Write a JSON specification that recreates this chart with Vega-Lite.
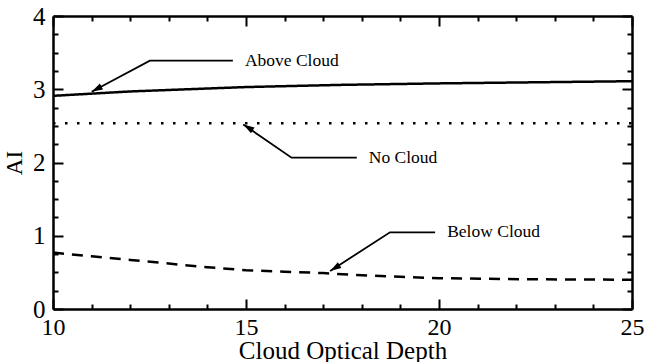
{
  "$schema": "https://vega.github.io/schema/vega-lite/v6.json",
  "width": 579,
  "height": 293,
  "autosize": "none",
  "padding": {"left": 53, "top": 16, "right": 13, "bottom": 53},
  "background": "white",
  "config": {
    "view": {"stroke": null},
    "font": "Liberation Serif",
    "axis": {
      "domainColor": "black",
      "domainWidth": 2.5,
      "tickColor": "black",
      "tickWidth": 2,
      "grid": false,
      "labelColor": "black",
      "titleColor": "black",
      "labelFont": "Liberation Serif",
      "titleFont": "Liberation Serif",
      "titleFontWeight": "normal"
    }
  },
  "datasets": {
    "curves": [
      {"series": "Above Cloud", "depth": 10, "ai": 2.91},
      {"series": "Above Cloud", "depth": 11, "ai": 2.94},
      {"series": "Above Cloud", "depth": 12, "ai": 2.97},
      {"series": "Above Cloud", "depth": 13, "ai": 2.99},
      {"series": "Above Cloud", "depth": 14, "ai": 3.01},
      {"series": "Above Cloud", "depth": 15, "ai": 3.03},
      {"series": "Above Cloud", "depth": 17.5, "ai": 3.06},
      {"series": "Above Cloud", "depth": 20, "ai": 3.08},
      {"series": "Above Cloud", "depth": 22.5, "ai": 3.095},
      {"series": "Above Cloud", "depth": 25, "ai": 3.11},
      {"series": "No Cloud", "depth": 10, "ai": 2.535},
      {"series": "No Cloud", "depth": 25, "ai": 2.535},
      {"series": "Below Cloud", "depth": 10, "ai": 0.77},
      {"series": "Below Cloud", "depth": 11, "ai": 0.72},
      {"series": "Below Cloud", "depth": 12, "ai": 0.67},
      {"series": "Below Cloud", "depth": 13, "ai": 0.62},
      {"series": "Below Cloud", "depth": 14, "ai": 0.57},
      {"series": "Below Cloud", "depth": 15, "ai": 0.53},
      {"series": "Below Cloud", "depth": 16, "ai": 0.51},
      {"series": "Below Cloud", "depth": 17, "ai": 0.49},
      {"series": "Below Cloud", "depth": 18, "ai": 0.46},
      {"series": "Below Cloud", "depth": 19, "ai": 0.44},
      {"series": "Below Cloud", "depth": 20, "ai": 0.42},
      {"series": "Below Cloud", "depth": 22.5, "ai": 0.405},
      {"series": "Below Cloud", "depth": 25, "ai": 0.40}
    ],
    "callouts": [
      {"label": "Above Cloud", "seq": 0, "depth": 11.0, "ai": 2.965},
      {"label": "Above Cloud", "seq": 1, "depth": 12.51, "ai": 3.39},
      {"label": "Above Cloud", "seq": 2, "depth": 14.66, "ai": 3.39},
      {"label": "No Cloud", "seq": 0, "depth": 14.93, "ai": 2.52},
      {"label": "No Cloud", "seq": 1, "depth": 16.18, "ai": 2.066},
      {"label": "No Cloud", "seq": 2, "depth": 17.87, "ai": 2.066},
      {"label": "Below Cloud", "seq": 0, "depth": 17.18, "ai": 0.519},
      {"label": "Below Cloud", "seq": 1, "depth": 18.73, "ai": 1.047},
      {"label": "Below Cloud", "seq": 2, "depth": 19.9, "ai": 1.047}
    ]
  },
  "resolve": {"axis": {"x": "independent", "y": "independent"}},
  "layer": [
    {
      "data": {"name": "curves"},
      "mark": {"type": "line", "color": "black", "strokeWidth": 2.5, "clip": true},
      "encoding": {
        "x": {
          "field": "depth", "type": "quantitative",
          "scale": {"domain": [10, 25], "nice": false, "zero": false},
          "axis": {
            "orient": "bottom",
            "values": [10, 11, 12, 13, 14, 15, 16, 17, 18, 19, 20, 21, 22, 23, 24, 25],
            "tickSize": {"condition": {"test": "datum.value % 5 === 0", "value": -10}, "value": -5},
            "labelExpr": "datum.value % 5 === 0 ? format(datum.value, 'd') : ''",
            "labelFontSize": 24,
            "labelPadding": 16,
            "labelFlush": false,
            "labelOverlap": false,
            "title": "Cloud Optical Depth",
            "titleFontSize": 25,
            "titlePadding": -6
          }
        },
        "y": {
          "field": "ai", "type": "quantitative",
          "scale": {"domain": [0, 4], "nice": false, "zero": false},
          "axis": {
            "orient": "left",
            "values": [0, 0.25, 0.5, 0.75, 1, 1.25, 1.5, 1.75, 2, 2.25, 2.5, 2.75, 3, 3.25, 3.5, 3.75, 4],
            "tickSize": {"condition": {"test": "datum.value % 1 === 0", "value": -10}, "value": -5},
            "labelExpr": "datum.value % 1 === 0 ? format(datum.value, 'd') : ''",
            "labelFontSize": 25,
            "labelPadding": 18,
            "labelFlush": false,
            "labelOverlap": false,
            "title": "AI",
            "titleFontSize": 23,
            "titlePadding": 6
          }
        },
        "detail": {"field": "series"},
        "strokeDash": {
          "field": "series", "type": "nominal",
          "scale": {"domain": ["Above Cloud", "No Cloud", "Below Cloud"], "range": [[1, 0], [2.5, 9.5], [11, 8]]},
          "legend": null
        }
      }
    },
    {
      "data": {"name": "callouts"},
      "mark": {"type": "line", "color": "black", "strokeWidth": 1.8},
      "encoding": {
        "x": {
          "field": "depth", "type": "quantitative",
          "axis": {
            "orient": "top",
            "values": [10, 11, 12, 13, 14, 15, 16, 17, 18, 19, 20, 21, 22, 23, 24, 25],
            "tickSize": {"condition": {"test": "datum.value % 5 === 0", "value": -10}, "value": -5},
            "labels": false,
            "title": null
          }
        },
        "y": {
          "field": "ai", "type": "quantitative",
          "axis": {
            "orient": "right",
            "values": [0, 0.25, 0.5, 0.75, 1, 1.25, 1.5, 1.75, 2, 2.25, 2.5, 2.75, 3, 3.25, 3.5, 3.75, 4],
            "tickSize": {"condition": {"test": "datum.value % 1 === 0", "value": -10}, "value": -5},
            "labels": false,
            "title": null
          }
        },
        "detail": {"field": "label"},
        "order": {"field": "seq"}
      }
    },
    {
      "data": {"name": "callouts"},
      "transform": [{"filter": "datum.seq === 2"}],
      "mark": {"type": "text", "align": "left", "baseline": "middle", "dx": 12, "fontSize": 17.5, "font": "Liberation Serif", "color": "black"},
      "encoding": {
        "x": {"field": "depth", "type": "quantitative", "axis": null},
        "y": {"field": "ai", "type": "quantitative", "axis": null},
        "text": {"field": "label"}
      }
    },
    {
      "data": {"name": "callouts"},
      "transform": [{"filter": "datum.seq === 0 && datum.label === 'Above Cloud'"}],
      "mark": {"type": "point", "shape": "M0,0L-0.3,1L0.3,1Z", "size": 500, "filled": true, "color": "black", "opacity": 1, "angle": 242},
      "encoding": {
        "x": {"field": "depth", "type": "quantitative", "axis": null},
        "y": {"field": "ai", "type": "quantitative", "axis": null}
      }
    },
    {
      "data": {"name": "callouts"},
      "transform": [{"filter": "datum.seq === 0 && datum.label === 'No Cloud'"}],
      "mark": {"type": "point", "shape": "M0,0L-0.3,1L0.3,1Z", "size": 500, "filled": true, "color": "black", "opacity": 1, "angle": 302},
      "encoding": {
        "x": {"field": "depth", "type": "quantitative", "axis": null},
        "y": {"field": "ai", "type": "quantitative", "axis": null}
      }
    },
    {
      "data": {"name": "callouts"},
      "transform": [{"filter": "datum.seq === 0 && datum.label === 'Below Cloud'"}],
      "mark": {"type": "point", "shape": "M0,0L-0.3,1L0.3,1Z", "size": 500, "filled": true, "color": "black", "opacity": 1, "angle": 238},
      "encoding": {
        "x": {"field": "depth", "type": "quantitative", "axis": null},
        "y": {"field": "ai", "type": "quantitative", "axis": null}
      }
    }
  ]
}
